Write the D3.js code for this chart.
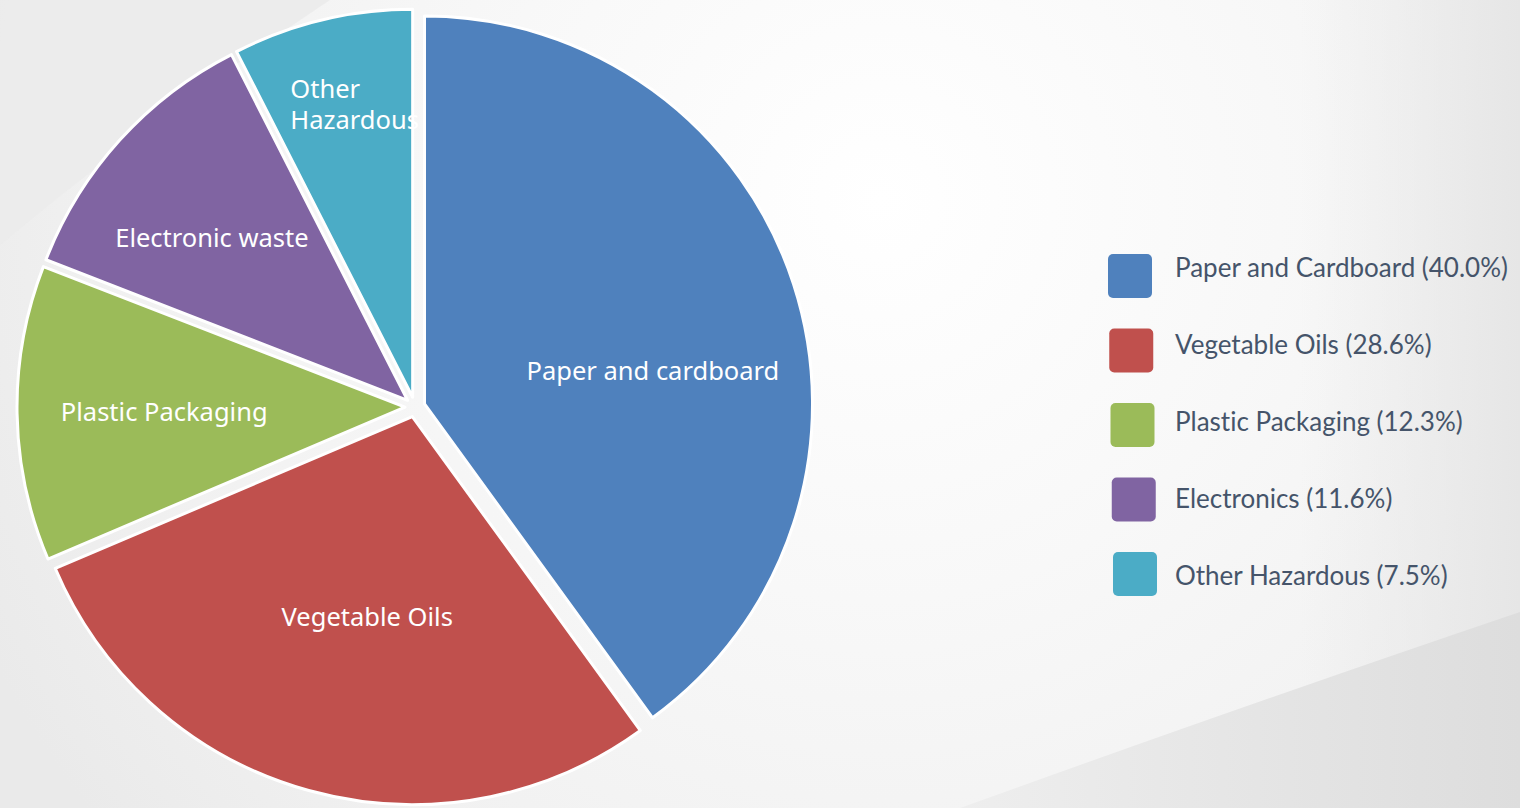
<!DOCTYPE html>
<html>
<head>
<meta charset="utf-8">
<script src="https://cdn.jsdelivr.net/npm/d3@7/dist/d3.min.js"></script>
<style>
  html, body { margin: 0; padding: 0; overflow: hidden; }
  svg { display: block; }
  text { font-variant-ligatures: none; }
</style>
</head>
<body>
<svg id="chart" width="1520" height="808"></svg>
<script>
// ---- data ----
const sliceLabels = ["Paper and cardboard", "Vegetable Oils", "Plastic Packaging", "Electronic waste", "Other\nHazardous"];
const legendLabels = ["Paper and Cardboard", "Vegetable Oils", "Plastic Packaging", "Electronics", "Other Hazardous"];
const shares = [40.0, 28.6, 12.3, 11.6, 7.5];
const colors = ["#4F81BD", "#C0504D", "#9BBB59", "#8064A2", "#4BACC6"];

// ---- layout ----
const W = 1520, H = 808;
const cx = 415, cy = 407, R = 388, explode = 10;
const labelNudge = [[7, 39], [17, -24], [-8, 1], [-23, -6], [-68, -82]];
const labelAnchor = ["middle", "middle", "middle", "middle", "start"];

const svg = d3.select("#chart");
const defs = svg.append("defs");

// background
const bg = defs.append("radialGradient").attr("id", "glow")
  .attr("gradientUnits", "userSpaceOnUse")
  .attr("cx", 880).attr("cy", 200).attr("r", 1000);
bg.append("stop").attr("offset", "0%").attr("stop-color", "#ffffff");
bg.append("stop").attr("offset", "40%").attr("stop-color", "#f8f8f8");
bg.append("stop").attr("offset", "75%").attr("stop-color", "#f1f1f1");
bg.append("stop").attr("offset", "100%").attr("stop-color", "#eaeaea");
svg.append("rect").attr("width", W).attr("height", H).attr("fill", "url(#glow)");

// top-left gray band
svg.append("path")
  .attr("d", "M0,0 L330,0 Q150,120 0,245 Z")
  .attr("fill", "#ebebeb").attr("opacity", 0.9);
// right edge shade
const edge = defs.append("linearGradient").attr("id", "edge")
  .attr("x1", 0).attr("y1", 0).attr("x2", 1).attr("y2", 0);
edge.append("stop").attr("offset", "0%").attr("stop-color", "#e8e8e8").attr("stop-opacity", 0);
edge.append("stop").attr("offset", "100%").attr("stop-color", "#e6e6e6").attr("stop-opacity", 1);
svg.append("rect").attr("x", 1300).attr("y", 0).attr("width", 220).attr("height", H).attr("fill", "url(#edge)");
// bottom-right darker sweep
const sweep = defs.append("linearGradient").attr("id", "sweep")
  .attr("x1", 0).attr("y1", 0).attr("x2", 1).attr("y2", 0);
sweep.append("stop").attr("offset", "0%").attr("stop-color", "#eeeeee");
sweep.append("stop").attr("offset", "100%").attr("stop-color", "#dddddd");
svg.append("path")
  .attr("d", "M960,808 Q1260,700 1520,612 L1520,808 Z")
  .attr("fill", "url(#sweep)");

// ---- pie ----
const pie = d3.pie().sort(null).value(d => d).startAngle(0).endAngle(2 * Math.PI);
const arcs = pie(shares);
const arc = d3.arc().innerRadius(0).outerRadius(R);
const labelArc = d3.arc().innerRadius(R * 0.6).outerRadius(R * 0.6);

const g = svg.append("g").attr("transform", `translate(${cx},${cy})`);

const slices = g.selectAll("g.slice").data(arcs).join("g")
  .attr("class", "slice")
  .attr("transform", d => {
    const m = (d.startAngle + d.endAngle) / 2;
    return `translate(${Math.sin(m) * explode},${-Math.cos(m) * explode})`;
  });

slices.append("path")
  .attr("d", arc)
  .attr("fill", (d, i) => colors[i])
  .attr("stroke", "#ffffff")
  .attr("stroke-width", 3)
  .attr("stroke-linejoin", "round");

slices.each(function(d, i) {
  const c = labelArc.centroid(d);
  const x = c[0] + labelNudge[i][0];
  const y = c[1] + labelNudge[i][1];
  const lines = sliceLabels[i].split("\n");
  const t = d3.select(this).append("text")
    .attr("x", x).attr("y", y)
    .attr("text-anchor", labelAnchor[i])
    .attr("font-family", "'Noto Sans', 'Open Sans', sans-serif")
    .attr("font-size", 25.5)
    .attr("fill", "#ffffff");
  lines.forEach((ln, k) => {
    t.append("tspan").attr("x", x).attr("dy", k === 0 ? "0.35em" : 31).text(ln);
  });
});

// ---- legend ----
const textY = d3.scalePoint().domain(d3.range(shares.length)).range([268, 576]);
const swatchY = d3.scalePoint().domain(d3.range(shares.length)).range([276, 574]);
const swatchX = d3.scalePoint().domain(d3.range(shares.length)).range([1108, 1113]);
const legend = svg.append("g");
legendLabels.forEach((lab, i) => {
  legend.append("rect")
    .attr("x", swatchX(i)).attr("y", swatchY(i) - 22)
    .attr("width", 44).attr("height", 44)
    .attr("rx", 5).attr("ry", 5)
    .attr("fill", colors[i]);
  legend.append("text")
    .attr("x", 1175).attr("y", textY(i))
    .attr("dy", "0.35em")
    .attr("font-family", "Lato, sans-serif")
    .attr("font-size", 26)
    .attr("fill", "#45546a")
    .text(`${lab} (${shares[i].toFixed(1)}%)`);
});
</script>
</body>
</html>
